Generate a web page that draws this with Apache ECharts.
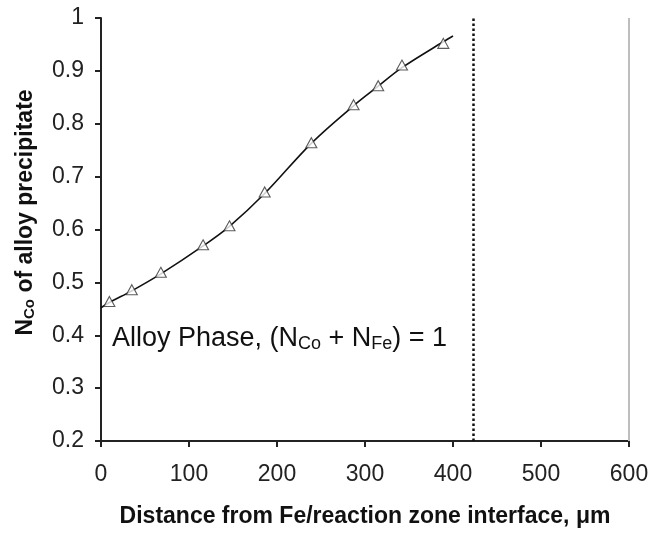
<!DOCTYPE html>
<html>
<head>
<meta charset="utf-8">
<script src="https://cdn.jsdelivr.net/npm/echarts@6/dist/echarts.min.js"></script>
<style>html,body{margin:0;padding:0;background:#fff;}#c{width:663px;height:533px;}</style>
</head>
<body>
<div id="c"></div>
<script>
// Measured data points (triangles)
var pointX = [9.5, 35, 68, 116, 146, 186, 239, 287, 315, 342, 389];
var pointY = [0.464, 0.486, 0.519, 0.571, 0.607, 0.671, 0.764, 0.836, 0.872, 0.911, 0.952];
// Fitted curve
var curveX = [0, 9.5, 35, 68, 116, 146, 186, 239, 287, 315, 342, 389, 400];
var curveY = [0.452, 0.462, 0.484, 0.516, 0.569, 0.606, 0.668, 0.763, 0.834, 0.871, 0.906, 0.955, 0.966];
// Reference lines
var interfaceX = 423;   // dotted vertical line
var boundaryX = 600;    // grey vertical line
var xTicks = [0, 100, 200, 300, 400, 500, 600];
var yTicks = [0.2, 0.3, 0.4, 0.5, 0.6, 0.7, 0.8, 0.9, 1];

var font = 'Liberation Sans, Arial, sans-serif';
var chart = echarts.init(document.getElementById('c'), null, {renderer: 'canvas'});

function zip(a, b) { return a.map(function (v, i) { return [v, b[i]]; }); }

var option = {
  animation: false,
  backgroundColor: '#fff',
  grid: {left: 101, right: 34, top: 18, bottom: 90},
  xAxis: {
    type: 'value', min: xTicks[0], max: xTicks[xTicks.length - 1], interval: 100,
    name: 'Distance from Fe/reaction zone interface, μm',
    nameLocation: 'middle', nameGap: 64,
    nameTextStyle: {fontFamily: font, fontWeight: 'bold', fontSize: 23, color: '#111'},
    axisLine: {show: true, lineStyle: {color: '#222', width: 2}},
    axisTick: {show: true, length: 6, lineStyle: {color: '#222', width: 2}},
    axisLabel: {fontFamily: font, fontSize: 23, color: '#222', margin: 22},
    splitLine: {show: false}
  },
  yAxis: {
    type: 'value', min: yTicks[0], max: yTicks[yTicks.length - 1], interval: 0.1,
    name: '{n|N}{s|Co}{n| of alloy precipitate}',
    nameLocation: 'middle', nameGap: 64, nameRotate: 90,
    nameTextStyle: {
      fontFamily: font, fontWeight: 'bold', fontSize: 23, color: '#111',
      padding: [0, 0, 0, 34],
      rich: {
        n: {fontFamily: font, fontWeight: 'bold', fontSize: 23, color: '#111'},
        s: {fontFamily: font, fontWeight: 'bold', fontSize: 15, color: '#111', verticalAlign: 'bottom', padding: [8, 0, 0, 0]}
      }
    },
    axisLine: {show: true, lineStyle: {color: '#222', width: 2}},
    axisTick: {show: true, length: 6, lineStyle: {color: '#222', width: 2}},
    axisLabel: {fontFamily: font, fontSize: 23, color: '#222', margin: 17,
      formatter: function (v) { return String(Math.round(v * 10) / 10); }},
    splitLine: {show: false}
  },
  series: [
    {
      type: 'line', data: zip(curveX, curveY), smooth: 0.35, symbol: 'none',
      lineStyle: {color: '#111', width: 1.6}, z: 3,
      markLine: {
        silent: true, symbol: ['none', 'none'], label: {show: false},
        lineStyle: {color: '#bdbdbd', width: 2, type: 'solid'},
        data: [
          [{coord: [boundaryX, 0.2]}, {coord: [boundaryX, 1]}]
        ]
      }
    },
    {
      type: 'line', data: [], symbol: 'none',
      markLine: {
        silent: true, symbol: ['none', 'none'], label: {show: false},
        lineStyle: {color: '#111', width: 2.5, type: [2.5, 2.5]},
        data: [
          [{coord: [interfaceX, 0.2]}, {coord: [interfaceX, 1]}]
        ]
      }
    },
    {
      type: 'scatter', data: zip(pointX, pointY), symbol: 'triangle', symbolSize: [11, 10],
      itemStyle: {color: '#fff', borderColor: '#333', borderWidth: 1.1}, z: 4
    }
  ],
  graphic: [
    {
      type: 'text', left: 112, top: 325, z: 10,
      style: {
        text: '{a|Alloy Phase, (N}{s|Co}{a| + N}{s|Fe}{a|) = 1}',
        rich: {
          a: {fontFamily: font, fontSize: 27, fill: '#111'},
          s: {fontFamily: font, fontSize: 18, fill: '#111', padding: [12, 0, 0, 0]}
        }
      }
    }
  ]
};
chart.setOption(option);
</script>
</body>
</html>
